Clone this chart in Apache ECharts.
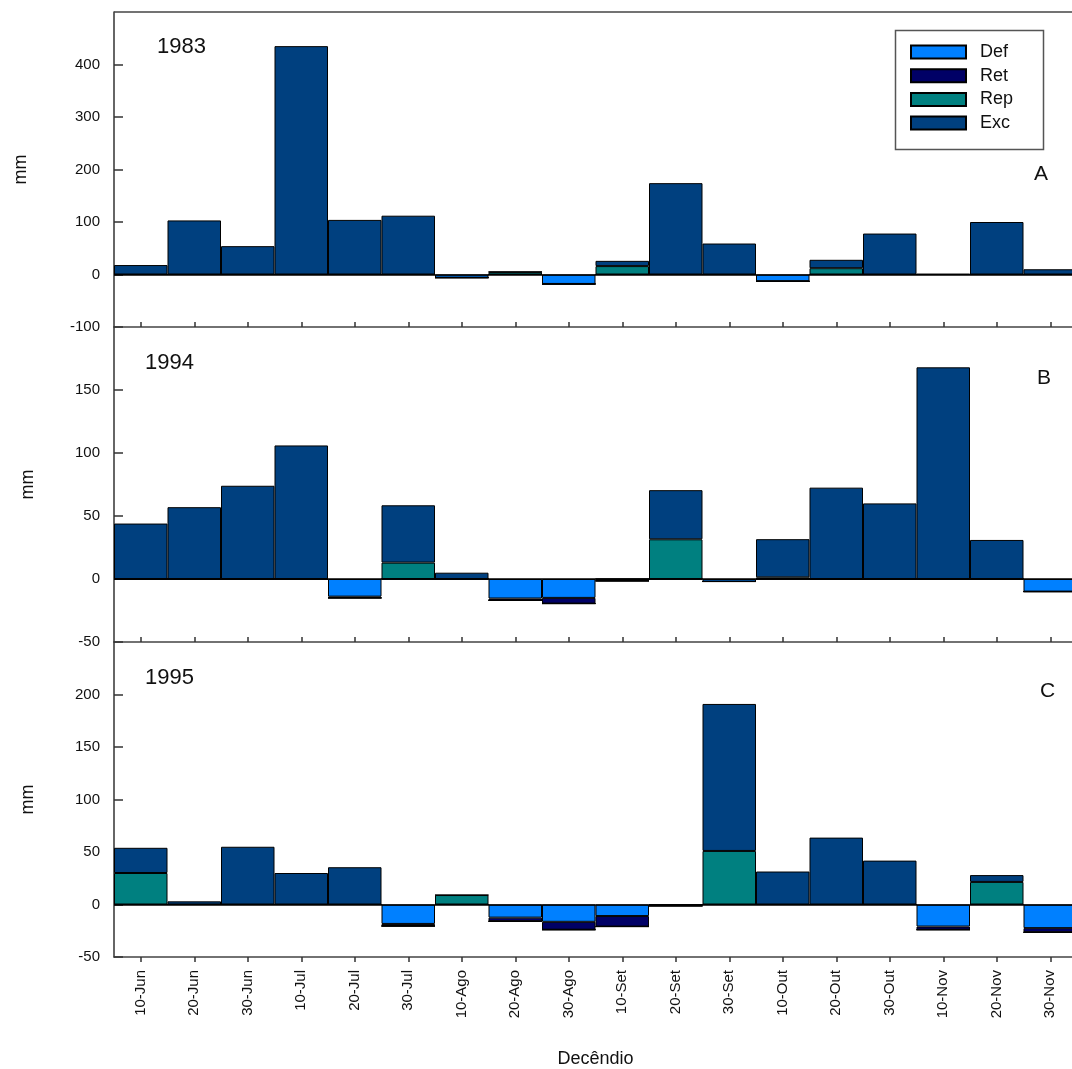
<!DOCTYPE html>
<html>
<head>
<meta charset="utf-8">
<script src="https://cdn.jsdelivr.net/npm/echarts@6/dist/echarts.min.js"></script>
<style>
html, body { margin: 0; padding: 0; background: #fff; }
#main { width: 1072px; height: 1069px; }
</style>
</head>
<body>
<div id="main"></div>
<script>
// decendios (x categories)
var decendios = ['10-Jun', '20-Jun', '30-Jun', '10-Jul', '20-Jul', '30-Jul', '10-Ago', '20-Ago', '30-Ago',
    '10-Set', '20-Set', '30-Set', '10-Out', '20-Out', '30-Out', '10-Nov', '20-Nov', '30-Nov'];

// 1983 (A)
var def1983 = [0, 0, 0, 0, 0, 0, -6, 0, -18, 0, 0, 0, -13, 0, 0, 0, 0, 0];
var ret1983 = [0, 0, 0, 0, 0, 0, 0, 0, 0, 0, 0, 0, 0, 0, 0, 0, 0, 0];
var rep1983 = [0, 0, 0, 0, 0, 0, 0, 5, 0, 16, 0, 0, 0, 12, 0, 0, 0, 0];
var exc1983 = [18, 103, 54, 435, 104, 112, 0, 0, 0, 10, 174, 59, 0, 16, 78, 1, 100, 10];

// 1994 (B)
var def1994 = [0, 0, 0, 0, -14, 0, 0, -15.5, -15, 0, 0, -2, 0, 0, 0, 0, 0, -10];
var ret1994 = [0, 0, 0, 0, -1, 0, 0, -1.5, -4.5, -1.5, 0, 0, 0, 0, 0, 0, 0, 0];
var rep1994 = [0, 0, 0, 0, 0, 13, 0, 0, 0, 0, 31.5, 0, 1.3, 0, 0, 0, 0, 0];
var exc1994 = [44, 57, 74, 106, 0, 45.5, 5, 0, 0, 0, 39, 0, 30.3, 72.5, 60, 168, 31, 0];

// 1995 (C)
var def1995 = [0, 0, 0, 0, 0, -18.5, 0, -12.5, -16.5, -11, 0, 0, 0, 0, 0, -21, 0, -22.5];
var ret1995 = [0, 0, 0, 0, 0, -2, 0, -3.5, -7.5, -10, -1.3, 0, 0, 0, 0, -3, 0, -4];
var rep1995 = [30, 0, 0, 0, 0, 0, 9, 0, 0, 0, 0, 51, 0, 0, 0, 0, 21.5, 0];
var exc1995 = [24, 3, 55, 30, 35.5, 0, 0, 0, 0, 0, 0, 140, 31.4, 63.7, 41.8, 0, 6.5, 0];

// y axis ranges per panel
var yMin = [-100, -50, -50];
var yMax = [500, 200, 250];
var yStep = [100, 50, 50];

var paineis = [
    { ano: '1983', letra: 'A', def: def1983, ret: ret1983, rep: rep1983, exc: exc1983 },
    { ano: '1994', letra: 'B', def: def1994, ret: ret1994, rep: rep1994, exc: exc1994 },
    { ano: '1995', letra: 'C', def: def1995, ret: ret1995, rep: rep1995, exc: exc1995 }
];

var cores = { Def: '#0080ff', Ret: '#000066', Rep: '#008080', Exc: '#00407f' };
var fonte = 'Arial, "Liberation Sans", sans-serif';

var myChart = echarts.init(document.getElementById('main'));

var grids = [], xAxes = [], yAxes = [], series = [];
var topos = [12, 327, 642];

for (var p = 0; p < 3; p++) {
    grids.push({ left: 114, width: 963, top: topos[p], height: 315, outerBoundsMode: 'none', containLabel: false });
    xAxes.push({
        type: 'category',
        gridIndex: p,
        data: decendios,
        boundaryGap: true,
        axisLine: { show: true, onZero: false, lineStyle: { color: '#444', width: 1.5 } },
        axisTick: { show: true, alignWithLabel: true, inside: p < 2, length: 5, lineStyle: { color: '#333', width: 1.5 } },
        axisLabel: {
            show: p == 2, rotate: 90, margin: 13, interval: 0,
            fontFamily: fonte, fontSize: 15, color: '#111'
        },
        splitLine: { show: false },
        name: p == 2 ? 'Decêndio' : '',
        nameLocation: 'middle',
        nameGap: 93,
        nameTextStyle: { fontFamily: fonte, fontSize: 18, color: '#111' }
    });
    yAxes.push({
        type: 'value',
        gridIndex: p,
        min: yMin[p], max: yMax[p], interval: yStep[p],
        axisLine: { show: true, lineStyle: { color: '#333', width: 1.5 } },
        axisTick: { show: true, inside: true, length: 9, lineStyle: { color: '#333', width: 1.5 } },
        axisLabel: { showMaxLabel: false, margin: 14, fontFamily: fonte, fontSize: 15, color: '#111' },
        splitLine: { show: false },
        name: 'mm',
        nameLocation: 'middle',
        nameGap: p == 0 ? 84 : 77,
        nameTextStyle: { fontFamily: fonte, fontSize: 18, color: '#111' }
    });

    var nomes = ['Def', 'Ret', 'Rep', 'Exc'];
    var dados = [paineis[p].def, paineis[p].ret, paineis[p].rep, paineis[p].exc];
    for (var s = 0; s < 4; s++) {
        var serie = {
            name: nomes[s],
            type: 'bar',
            xAxisIndex: p,
            yAxisIndex: p,
            stack: 'painel' + p,
            barWidth: '100%',
            barCategoryGap: '0%',
            data: dados[s],
            itemStyle: { color: cores[nomes[s]], borderColor: '#000', borderWidth: 1 },
            emphasis: { disabled: true }
        };
        if (s == 3) {
            serie.markLine = {
                silent: true,
                symbol: 'none',
                label: { show: false },
                lineStyle: { color: '#000', width: 1.5, type: 'solid' },
                data: [{ yAxis: 0 }]
            };
        }
        series.push(serie);
    }
}

var textos = [];
var anoPos = [[157, 47], [145, 363], [145, 678]];
var letraPos = [[1034, 174], [1037, 378], [1040, 691]];
for (var p = 0; p < 3; p++) {
    textos.push({
        type: 'text', left: anoPos[p][0], top: anoPos[p][1] - 11,
        style: { text: paineis[p].ano, font: '22px ' + fonte, fill: '#111' }
    });
    textos.push({
        type: 'text', left: letraPos[p][0], top: letraPos[p][1] - 10,
        style: { text: paineis[p].letra, font: '21px ' + fonte, fill: '#111' }
    });
}
// top frame line of panel A
textos.push({
    type: 'line', z: 10,
    shape: { x1: 114, y1: 12, x2: 1072, y2: 12 },
    style: { stroke: '#444', lineWidth: 1.5 }
});
// legend box
textos.push({
    type: 'rect', left: 893, top: 28, z: 10,
    shape: { width: 148, height: 119 },
    style: { fill: 'none', stroke: '#555', lineWidth: 1.5 }
});

var option = {
    animation: false,
    backgroundColor: '#fff',
    legend: {
        orient: 'vertical',
        left: 910,
        top: 43,
        padding: 0,
        icon: 'rect',
        itemWidth: 55,
        itemHeight: 13,
        itemGap: 5.7,
        selectedMode: false,
        data: ['Def', 'Ret', 'Rep', 'Exc'],
        textStyle: { fontFamily: fonte, fontSize: 18, color: '#111', padding: [0, 0, 0, 9] }
    },
    grid: grids,
    xAxis: xAxes,
    yAxis: yAxes,
    series: series,
    graphic: textos
};

myChart.setOption(option);
</script>
</body>
</html>
